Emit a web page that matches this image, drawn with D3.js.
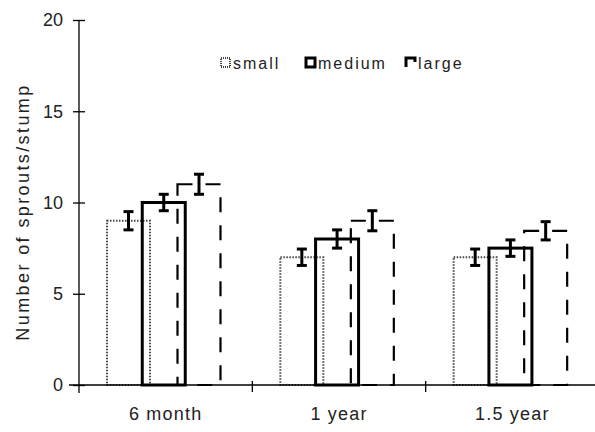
<!DOCTYPE html>
<html>
<head>
<meta charset="utf-8">
<script src="https://cdn.jsdelivr.net/npm/d3@7"></script>
<style>
  body { margin: 0; background: #fff; }
  svg { display: block; font-family: "Liberation Sans", Arial, sans-serif; }
</style>
</head>
<body>
<svg id="chart" width="595" height="432"></svg>
<script>
// categories / series
const categories = ["6 month", "1 year", "1.5 year"];
const seriesNames = ["small", "medium", "large"];
const smallVals = [9.0, 7.0, 7.0];
const mediumVals = [10.0, 8.0, 7.5];
const largeVals = [11.0, 9.0, 8.45];
const smallErr = [0.5, 0.45, 0.45];
const mediumErr = [0.45, 0.5, 0.45];
const largeErr = [0.55, 0.55, 0.5];
const yTicks = [0, 5, 10, 15, 20];

const W = 595, H = 432;
const plotLeft = 79, plotTop = 20, plotBottom = 385;

const svg = d3.select("#chart");

const y = d3.scaleLinear().domain([0, 20]).range([plotBottom, plotTop]);
const x0 = d3.scaleBand().domain(categories).range([plotLeft, 599]).padding(0);
const x1 = d3.scalePoint().domain(seriesNames).range([49.5, 120]);
const barW = 43;

const styles = {
  small: { stroke: "#444", width: 2, dash: "1.5,1.5" },
  medium: { stroke: "#000", width: 3, dash: null },
  large: { stroke: "#000", width: 2.2, dash: "15,13" }
};

const rows = [];
const vals = { small: smallVals, medium: mediumVals, large: largeVals };
const errs = { small: smallErr, medium: mediumErr, large: largeErr };
seriesNames.forEach(s => {
  categories.forEach((c, i) => {
    rows.push({ series: s, cat: c, value: vals[s][i], err: errs[s][i] });
  });
});

// bars (no fill, outlines overlap like the original)
svg.append("g")
  .selectAll("rect")
  .data(rows)
  .join("rect")
    .attr("x", d => x0(d.cat) + x1(d.series) - barW / 2)
    .attr("y", d => y(d.value))
    .attr("width", barW)
    .attr("height", d => y(0) - y(d.value))
    .attr("fill", "none")
    .attr("stroke", d => styles[d.series].stroke)
    .attr("stroke-width", d => styles[d.series].width)
    .attr("stroke-dasharray", d => styles[d.series].dash);

// error bars
const capW = 10;
const eb = svg.append("g").attr("stroke", "#000").attr("stroke-width", 3);
rows.forEach(d => {
  const cx = x0(d.cat) + x1(d.series);
  eb.append("line")
    .attr("x1", cx).attr("x2", cx)
    .attr("y1", y(d.value + d.err)).attr("y2", y(d.value - d.err));
  [d.value + d.err, d.value - d.err].forEach(v => {
    eb.append("line")
      .attr("x1", cx - capW / 2).attr("x2", cx + capW / 2)
      .attr("y1", y(v)).attr("y2", y(v));
  });
});

// y axis
const yAxis = svg.append("g")
  .attr("transform", `translate(${plotLeft},0)`)
  .call(d3.axisLeft(y).tickValues(yTicks).tickSize(6).tickPadding(10));
yAxis.select(".domain").attr("d", `M0,${plotTop}V${plotBottom + 8}`).attr("stroke-width", 1.3);
yAxis.selectAll(".tick line").attr("x1", -6).attr("x2", 6).attr("stroke-width", 1.3);
yAxis.selectAll(".tick text")
  .attr("font-size", 18).attr("font-family", "Liberation Sans, Arial, sans-serif")
  .attr("fill", "#222");

// x axis, ticks between categories
const xg = svg.append("g").attr("transform", `translate(0,${plotBottom})`);
xg.append("line").attr("x1", plotLeft - 10).attr("x2", W).attr("stroke", "#000").attr("stroke-width", 1.3);
categories.slice(1).forEach(c => {
  xg.append("line")
    .attr("x1", x0(c)).attr("x2", x0(c))
    .attr("y1", -4).attr("y2", 7)
    .attr("stroke", "#000").attr("stroke-width", 1.3);
});
xg.selectAll("text.cat")
  .data(categories)
  .join("text")
    .attr("class", "cat")
    .attr("x", d => x0(d) + x0.bandwidth() / 2)
    .attr("y", 35)
    .attr("text-anchor", "middle")
    .attr("font-size", 18)
    .attr("letter-spacing", 1.2)
    .attr("fill", "#222")
    .text(d => d);

// y label
svg.append("text")
  .attr("transform", "translate(29,212) rotate(-90)")
  .attr("text-anchor", "middle")
  .attr("font-size", 18)
  .attr("letter-spacing", 2.4)
  .attr("fill", "#222")
  .text("Number of sprouts/stump");

// legend
const legendX = [221, 306, 406];
const lg = svg.append("g");
seriesNames.forEach((s, i) => {
  const st = styles[s];
  lg.append("rect")
    .attr("x", legendX[i]).attr("y", 58)
    .attr("width", 9).attr("height", 9)
    .attr("fill", "none")
    .attr("stroke", st.stroke)
    .attr("stroke-width", s === "small" ? 2 : 3)
    .attr("stroke-dasharray", s === "large" ? "13,14" : (s === "small" ? "1,1" : null));
  lg.append("text")
    .attr("x", legendX[i] + 12).attr("y", 69)
    .attr("font-size", 16)
    .attr("letter-spacing", 2)
    .attr("fill", "#222")
    .text(s);
});
</script>
</body>
</html>
